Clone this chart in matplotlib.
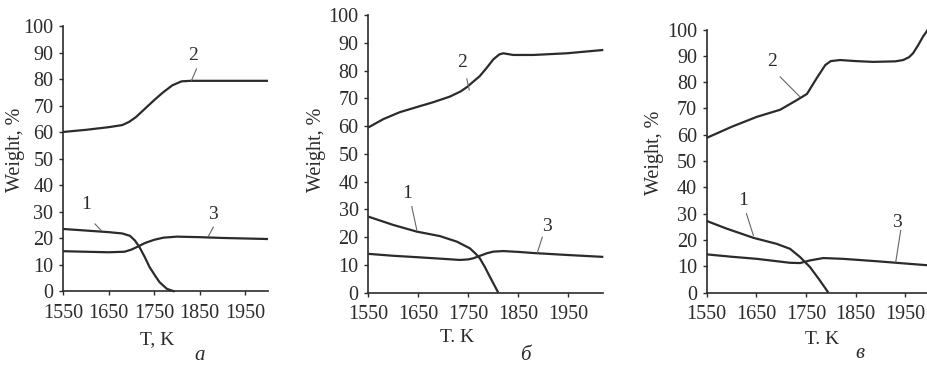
import matplotlib
matplotlib.use("Agg")
import matplotlib.pyplot as plt

plt.rcParams['font.family'] = ['Liberation Serif', 'DejaVu Serif']

# panel a
T_a1 = [1550, 1600, 1650, 1680, 1697, 1708, 1718, 1730, 1740, 1752, 1762, 1778, 1795]
W_a1 = [23.6, 23.0, 22.4, 21.9, 21.0, 19.2, 16.7, 12.8, 9.2, 6.0, 3.5, 1.0, 0.0]
T_a2 = [1550, 1600, 1650, 1680, 1695, 1710, 1730, 1750, 1770, 1790, 1810, 1830, 1900, 2000]
W_a2 = [60.2, 61.0, 62.0, 62.8, 64.0, 65.8, 69.0, 72.2, 75.2, 77.8, 79.3, 79.5, 79.5, 79.5]
T_a3 = [1550, 1600, 1650, 1685, 1700, 1715, 1730, 1750, 1770, 1800, 1850, 1900, 2000]
W_a3 = [15.2, 15.0, 14.8, 15.0, 15.8, 17.0, 18.3, 19.5, 20.3, 20.7, 20.5, 20.2, 19.8]

# panel b
T_b1 = [1550, 1600, 1647, 1693, 1727, 1753, 1765, 1773, 1783, 1793, 1810]
W_b1 = [27.4, 24.4, 22.0, 20.4, 18.4, 16.0, 14.0, 12.4, 9.3, 5.8, 0.0]
T_b2 = [1550, 1580, 1613, 1650, 1680, 1713, 1735, 1747, 1760, 1773, 1787, 1800, 1812, 1820, 1840, 1880, 1947, 2020]
W_b2 = [59.5, 62.5, 65.0, 67.0, 68.6, 70.6, 72.5, 74.0, 76.0, 78.0, 81.0, 84.0, 85.8, 86.2, 85.6, 85.6, 86.2, 87.4]
T_b3 = [1550, 1600, 1647, 1700, 1733, 1750, 1760, 1775, 1787, 1800, 1820, 1850, 1880, 1947, 2020]
W_b3 = [14.0, 13.3, 12.8, 12.2, 11.8, 12.0, 12.4, 13.4, 14.2, 14.8, 15.0, 14.7, 14.3, 13.6, 12.9]

# panel c
T_c1 = [1550, 1590, 1644, 1691, 1718, 1738, 1758, 1778, 1795]
W_c1 = [27.2, 24.3, 20.8, 18.5, 16.6, 13.5, 9.7, 4.6, 0.0]
T_c2 = [1550, 1600, 1651, 1698, 1731, 1752, 1772, 1789, 1800, 1819, 1850, 1885, 1930, 1946, 1958, 1966, 1976, 1986, 1996]
W_c2 = [58.8, 63.0, 66.8, 69.5, 73.1, 75.5, 81.6, 86.5, 88.0, 88.4, 88.0, 87.7, 87.9, 88.4, 89.5, 91.0, 94.0, 97.3, 100.0]
T_c3 = [1550, 1600, 1651, 1718, 1738, 1758, 1785, 1825, 1892, 1959, 2020]
W_c3 = [14.5, 13.6, 12.8, 11.3, 11.2, 12.2, 13.1, 12.8, 11.9, 10.9, 10.0]

xticks = [1550, 1650, 1750, 1850, 1950]
yticks = list(range(0, 101, 10))

# curve number labels: (text, text pos, leader start, leader end)
labels_a = [("1", (1601, 33), (1620, 25.5), (1634, 23.0)),
            ("2", (1836, 89), (1843, 84.0), (1832, 79.6)),
            ("3", (1880, 29), (1880, 24.3), (1869, 20.8))]
labels_b = [("1", (1627, 35.8), (1637, 31.0), (1647, 22.6)),
            ("2", (1737, 83), (1747, 77.0), (1752, 73.0)),
            ("3", (1907, 23.8), (1898, 20.0), (1888, 14.4))]
labels_c = [("1", (1624, 35), (1630, 30.0), (1644, 21.7)),
            ("2", (1681, 87.7), (1698, 82.0), (1738, 74.4)),
            ("3", (1933, 26.8), (1941, 23.6), (1931, 11.6))]

ink = "#2b2b2b"
fig = plt.figure(figsize=(9.27, 3.65), dpi=100)


def panel(rect, xmax, curves, labels, xlabel, xlabel_pos, letter, letter_pos, ylab_xy):
    ax = fig.add_axes(rect)
    for T, W in curves:
        ax.plot(T, W, color=ink, lw=1.6, solid_capstyle="butt", clip_on=False)
    for txt, tp, p0, p1 in labels:
        ax.text(tp[0], tp[1], txt, fontsize=14, color=ink, ha="center", va="center")
        ax.plot([p0[0], p1[0]], [p0[1], p1[1]], color="#666666", lw=0.8)
    ax.set_xlim(1550, xmax)
    ax.set_ylim(0, 100)
    ax.set_xticks(xticks)
    ax.set_yticks(yticks)
    for s in ["top", "right"]:
        ax.spines[s].set_visible(False)
    for s in ["left", "bottom"]:
        ax.spines[s].set_linewidth(1.2)
        ax.spines[s].set_color(ink)
    ax.tick_params(direction="out", length=3, width=1, colors=ink, labelsize=14.5)
    ax.tick_params(axis="x", pad=6)
    ax.tick_params(axis="y", pad=4)
    ax.set_ylabel("Weight, %", fontsize=14.5, color=ink)
    ax.yaxis.set_label_coords(*ylab_xy)
    fig.text(xlabel_pos[0] / 927, 1 - xlabel_pos[1] / 365, xlabel, fontsize=14,
             color=ink, ha="center", va="center")
    fig.text(letter_pos[0] / 927, 1 - letter_pos[1] / 365, letter, fontsize=15,
             style="italic", color=ink, ha="center", va="center")
    return ax


panel([0.068, 0.2014, 0.2211, 0.726], 2000,
      [(T_a1, W_a1), (T_a2, W_a2), (T_a3, W_a3)], labels_a,
      "T, K", (157, 340), "а", (200, 355), (-0.185, 0.535))
panel([0.3973, 0.198, 0.2535, 0.761], 2020,
      [(T_b1, W_b1), (T_b2, W_b2), (T_b3, W_b3)], labels_b,
      "T. K", (457, 337), "б", (525, 355), (-0.18, 0.515))
panel([0.7624, 0.1986, 0.2515, 0.7205], 2020,
      [(T_c1, W_c1), (T_c2, W_c2), (T_c3, W_c3)], labels_c,
      "T. K", (822, 340), "в", (860, 353), (-0.185, 0.53))

fig.savefig("out.png", dpi=100)
